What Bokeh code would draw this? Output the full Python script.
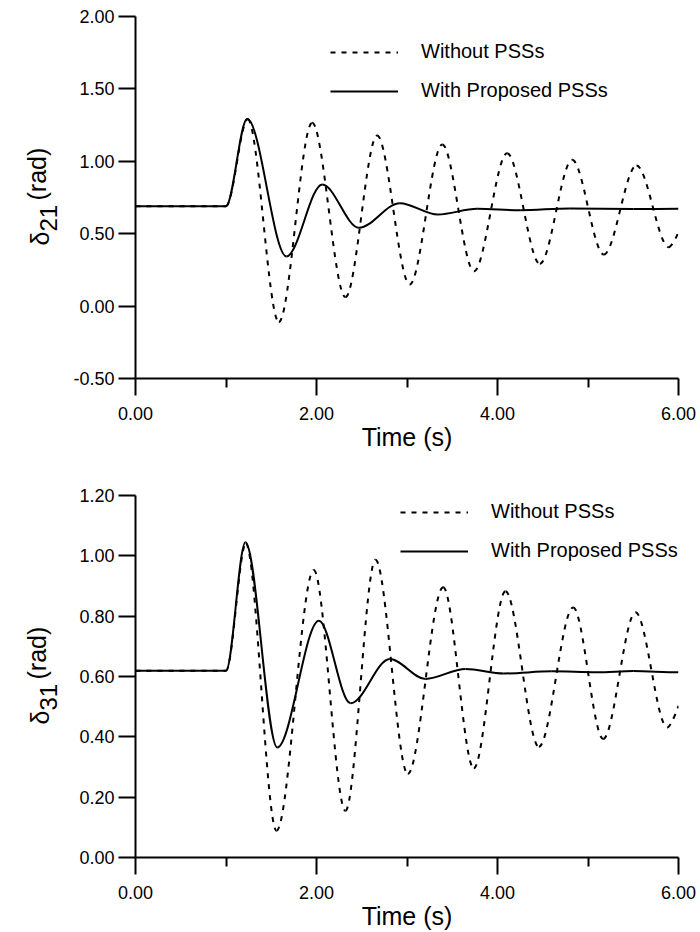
import numpy as np
from bokeh.plotting import figure
from bokeh.models import (Range1d, FixedTicker, PrintfTickFormatter, Label, Legend,
                          LegendItem, ColumnDataSource)
from bokeh.layouts import column, row
from bokeh.embed import file_html
from bokeh.resources import INLINE

# ---------------- data (turning points) ----------------
t21_without = [0.0, 1.00, 1.24, 1.584, 1.952, 2.32, 2.67, 3.03, 3.39, 3.74, 4.107,
               4.468, 4.825, 5.175, 5.536, 5.893, 6.0]
d21_without = [0.69, 0.69, 1.29, -0.11, 1.266, 0.062, 1.178, 0.149, 1.116, 0.241, 1.056,
               0.292, 1.010, 0.356, 0.971, 0.407, 0.511]

t21_with = [0.0, 1.00, 1.234, 1.668, 2.063, 2.468, 2.921, 3.341, 3.775, 4.25, 4.8, 5.5, 6.0]
d21_with = [0.69, 0.69, 1.293, 0.343, 0.840, 0.541, 0.711, 0.633, 0.672, 0.662, 0.674, 0.670, 0.672]

t31_without = [0.0, 1.00, 1.22, 1.558, 1.970, 2.32, 2.652, 3.009, 3.40, 3.738, 4.088,
               4.457, 4.836, 5.168, 5.525, 5.875, 6.0]
d31_without = [0.619, 0.619, 1.04, 0.089, 0.953, 0.155, 0.987, 0.277, 0.896, 0.296, 0.883,
               0.367, 0.829, 0.393, 0.813, 0.431, 0.503]

t31_with = [0.0, 1.00, 1.215, 1.566, 2.026, 2.376, 2.81, 3.204, 3.646, 4.07, 4.6, 5.1, 5.5, 6.0]
d31_with = [0.619, 0.619, 1.045, 0.365, 0.785, 0.511, 0.658, 0.592, 0.625, 0.610, 0.617,
            0.614, 0.618, 0.614]

x_major = [0, 2, 4, 6]
x_minor = [1, 3, 5]
y21_ticks = [-0.5, 0.0, 0.5, 1.0, 1.5, 2.0]
y31_ticks = [0.0, 0.2, 0.4, 0.6, 0.8, 1.0, 1.2]
legend_labels = ["Without PSSs", "With Proposed PSSs"]
x_title = "Time (s)"
y_symbol = "\u03b4"
y_subs = ["21", "31"]
y_unit = "(rad)"

FONT = "Liberation Sans"
DASH = "5 6"
LAB_W = 62          # width of the strip that carries the y-axis title
FRAME_H = 362       # plot frame height in pixels (strip frame is aligned to it)


def smooth_curve(p, t, v, dash, free_end):
    """Draw a curve through the read turning points with cubic Bezier segments."""
    t = np.asarray(t, float)
    v = np.asarray(v, float)
    x0, y0, x1, y1 = t[:-1], v[:-1], t[1:], v[1:]
    dt = x1 - x0
    cx0 = x0 + dt / 3.0
    cy0 = y0.copy()
    cx1 = x1 - dt / 3.0
    cy1 = y1.copy()
    if free_end:
        cx1[-1] = x1[-1]
        cy1[-1] = y1[-1]
    src = ColumnDataSource(dict(x0=x0, y0=y0, x1=x1, y1=y1, cx0=cx0, cy0=cy0, cx1=cx1, cy1=cy1))
    kw = dict(line_color="black", line_width=2)
    if dash:
        kw["line_dash"] = dash
    return p.bezier(x0="x0", y0="y0", x1="x1", y1="y1", cx0="cx0", cy0="cy0", cx1="cx1",
                    cy1="cy1", source=src, **kw)


def ylabel_strip(height, border_top, border_bottom, sub):
    """Narrow blank figure holding the rotated y title (delta with subscript).
    Its ranges are in pixels of its own frame (frame aligned with the plot's)."""
    f = figure(width=LAB_W, height=height, x_range=Range1d(0, LAB_W),
               y_range=Range1d(0, FRAME_H),
               output_backend="svg", toolbar_location=None,
               min_border_left=0, min_border_right=0,
               min_border_top=border_top, min_border_bottom=border_bottom,
               x_axis_location=None, y_axis_location=None)
    f.grid.visible = False
    f.outline_line_color = None
    f.background_fill_color = "white"
    f.border_fill_color = "white"
    common = dict(angle=1.5707963, text_align="left", text_baseline="alphabetic",
                  text_font=FONT, text_color="black")
    base = 133   # start of the title, px above frame bottom
    f.add_layout(Label(text=y_symbol, x=39, y=base, text_font_size="25px", **common))
    f.add_layout(Label(text=sub, x=48, y=base + 14, text_font_size="24px", **common))
    f.add_layout(Label(text=y_unit, x=36, y=base + 45, text_font_size="25px", **common))
    return f


def make_panel(height, border_top, border_bottom, y_lo, y_hi, yticks,
               t_wo, d_wo, t_w, d_w, legend_loc):
    p = figure(width=700 - LAB_W, height=height, x_range=Range1d(0, 6),
               y_range=Range1d(y_lo, y_hi),
               output_backend="svg", toolbar_location=None,
               min_border_left=135 - LAB_W, min_border_right=22,
               min_border_top=border_top, min_border_bottom=border_bottom,
               x_axis_label=x_title)
    p.grid.visible = False
    p.outline_line_color = None
    p.background_fill_color = "white"
    p.border_fill_color = "white"

    xa = p.xaxis[0]
    xa.ticker = FixedTicker(ticks=x_major, minor_ticks=x_minor)
    ya = p.yaxis[0]
    ya.ticker = FixedTicker(ticks=yticks, minor_ticks=[])
    for ax in (xa, ya):
        ax.formatter = PrintfTickFormatter(format="%.2f")
        ax.axis_line_width = 2
        ax.axis_line_color = "black"
        ax.major_tick_line_width = 2
        ax.minor_tick_line_width = 2
        ax.major_tick_line_color = "black"
        ax.minor_tick_line_color = "black"
        ax.major_tick_in = 0
        ax.major_tick_out = 17
        ax.minor_tick_in = 0
        ax.minor_tick_out = 9
        ax.major_label_text_font = FONT
        ax.major_label_text_font_size = "18px"
        ax.major_label_text_color = "black"
    xa.major_label_standoff = 11
    ya.major_label_standoff = 4
    xa.axis_label_text_font = FONT
    xa.axis_label_text_font_size = "25px"
    xa.axis_label_text_font_style = "normal"
    xa.axis_label_text_color = "black"
    xa.axis_label_standoff = 0

    r_wo = smooth_curve(p, t_wo, d_wo, DASH, True)
    r_w = smooth_curve(p, t_w, d_w, None, False)

    leg = Legend(items=[LegendItem(label=legend_labels[0], renderers=[r_wo]),
                        LegendItem(label=legend_labels[1], renderers=[r_w])],
                 location=legend_loc, orientation="vertical",
                 glyph_width=68, glyph_height=20, label_height=20, label_width=20,
                 label_standoff=23, spacing=16, padding=0, margin=0,
                 border_line_color=None, background_fill_alpha=0,
                 label_text_font=FONT, label_text_font_size="20px",
                 label_text_color="black")
    p.add_layout(leg)
    return p


p1 = make_panel(480, 16, 102, -0.5, 2.0, y21_ticks, t21_without, d21_without,
                t21_with, d21_with, (195, 276))
p2 = make_panel(452, 15, 75, 0.0, 1.2, y31_ticks, t31_without, d31_without,
                t31_with, d31_with, (265, 295))
s1 = ylabel_strip(480, 16, 102, y_subs[0])
s2 = ylabel_strip(452, 15, 75, y_subs[1])

layout = column(row(s1, p1, spacing=0), row(s2, p2, spacing=0), spacing=0)
open("out.html", "w").write(file_html(layout, INLINE))
